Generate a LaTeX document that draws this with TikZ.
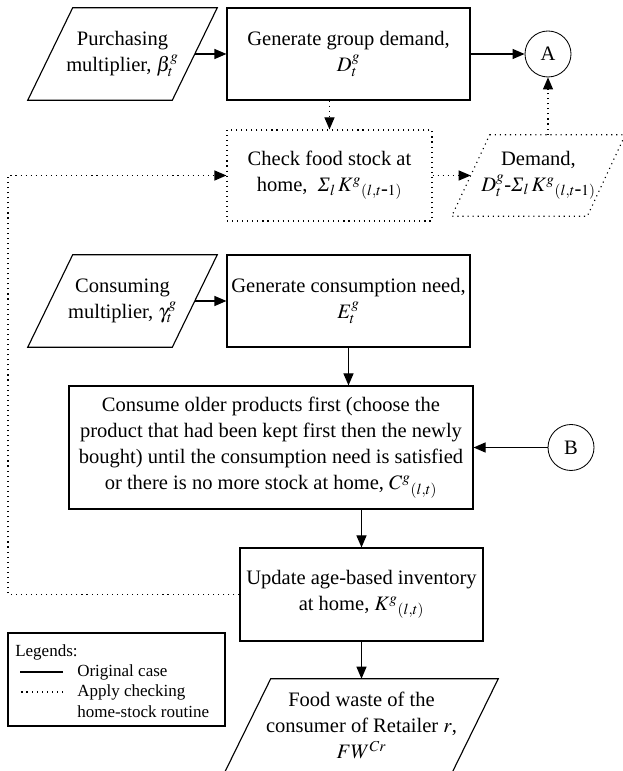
\documentclass[tikz,border=0pt]{standalone}
\usepackage{mathptmx}
\usepackage{fontspec}
\setmainfont{Liberation Serif}
\usetikzlibrary{
    arrows.meta,
    positioning,
    calc
}
\tikzset{
    % --- Process step (plain rectangle) ---
    process/.style = {
        rectangle, draw, thick,
        minimum width=6.075cm, minimum height=2.3cm,
        align=center, inner sep=2pt
    },
    % --- Body of an input/output step (slanted frame drawn after it) ---
    io body/.style = {
        rectangle, minimum width=3.6cm, minimum height=2.3cm,
        align=center, inner sep=0pt
    },
    % --- Off-page connector circle ---
    connector/.style = {
        circle, draw, semithick,
        minimum size=1.15cm, inner sep=0pt
    },
    % --- Home-stock routine line ---
    dotted line/.style = {
        dash pattern=on 0.8pt off 2.8pt
    },
    % --- Flow arrow ---
    flow/.style = {
        -{Triangle[length=0.3cm, width=0.25cm]}, thick
    },
    check flow/.style = {
        flow, dotted line
    },
    % --- Legend entries ---
    legend text/.style = {
        font=\fontsize{12.1}{14.2}\selectfont,
        anchor=west, inner sep=0pt
    }
}
% slanted frame round an io body: style, node, shift
\newcommand{\slantframe}[3]{%
    \draw[thick, #1] ([xshift=#3]#2.north west) -- ([xshift=#3]#2.north east)
        -- ([xshift=-#3]#2.south east) -- ([xshift=-#3]#2.south west) -- cycle;
}

\begin{document}
\begin{tikzpicture}[font=\fontsize{14.6}{18.5}\selectfont]

\useasboundingbox (0,0) rectangle (15.55,19.275);

% ---------------------------------------------------------
% Purchasing
% ---------------------------------------------------------
\node[io body] (Purch) at (3.0625,17.925) {Purchasing\\multiplier, $\beta_t^g$};
\slantframe{}{Purch}{0.5625cm}

\node[process] (GenD) at (8.7125,17.925) {Generate group demand,\\$D_t^g$};
\node[connector] (A) at (13.7,17.925) {A};

\draw[flow] (Purch) -- (GenD);
\draw[flow] (GenD) -- (A);

% ---------------------------------------------------------
% Home-stock routine
% ---------------------------------------------------------
\node[process, dotted line, minimum width=5.125cm, minimum height=2.275cm] (Check)
    at (8.2375,14.8875) {Check food stock at\\home, \ $\textit{Σ}_l\, K^{g}{}_{(l,t\mbox{-}1)}$};

\node[io body, minimum width=3.375cm, minimum height=2.025cm] (Demand)
    at (13.4625,14.8875) {Demand,\\$D_t^g$-$\textit{Σ}_l\, K^{g}{}_{(l,t\mbox{-}1)}$};
\slantframe{dotted line}{Demand}{0.475cm}

\draw[check flow] (GenD.south -| Check) -- (Check);
\draw[check flow] (Check) -- (Demand);
\draw[check flow] (Demand.north -| A) -- (A);

% ---------------------------------------------------------
% Consumption
% ---------------------------------------------------------
\node[io body] (Cons) at (3.0625,11.75) {Consuming\\multiplier, $\gamma_t^g$};
\slantframe{}{Cons}{0.5625cm}

\node[process] (GenE) at (8.7125,11.75) {Generate consumption need,\\$E_t^g$};

\node[process, minimum width=10.1cm, minimum height=3.075cm] (Consume) at (6.775,8.0875)
    {Consume older products first (choose the\\
     product that had been kept first then the newly\\
     bought) until the consumption need is satisfied\\
     or there is no more stock at home, $C^{g}{}_{(l,t)}$};

\node[connector] (B) at (14.275,8.0875) {B};

\draw[flow] (Cons) -- (GenE);
\draw[flow] (GenE) -- (GenE |- Consume.north);
\draw[flow] (B) -- (Consume);

% ---------------------------------------------------------
% Inventory and waste
% ---------------------------------------------------------
\node[process, minimum height=2.325cm] (Update) at (9.0375,4.4125)
    {Update age-based inventory\\at home, $K^{g}{}_{(l,t)}$};

\node[io body, minimum width=5.675cm, minimum height=2.325cm] (Waste) at (9.0375,1.1375)
    {Food waste of the\\consumer of Retailer $r$,\\$FW^{Cr}$};
\slantframe{}{Waste}{0.575cm}

\draw[flow] (Consume.south -| Update) -- (Update);
\draw[flow] (Update) -- (Waste);

% Loop back to the stock check
\coordinate (LoopX) at (0.2,0);
\draw[check flow] (Update.west) -- (Update.west -| LoopX) |- (Check.west);

% ---------------------------------------------------------
% Legend
% ---------------------------------------------------------
\node[draw, thick, minimum width=5.425cm, minimum height=2.325cm, inner sep=0pt] (Legend)
    at (2.9125,2.2875) {};
\node[legend text] (LegTitle) at (0.375,2.975) {Legends:};
\node[legend text] (LegSolid) at (1.925,2.475) {Original case};
\node[legend text] (LegDot) at (1.925,1.975) {Apply checking};
\node[legend text] (LegDot2) at (1.925,1.475) {home-stock routine};
\draw[thick] ([xshift=-0.35cm]LegSolid.west) -- ++(-1.075,0);
\draw[thick, dotted line] ([xshift=-0.35cm]LegDot.west) -- ++(-1.075,0);

\end{tikzpicture}
\end{document}
